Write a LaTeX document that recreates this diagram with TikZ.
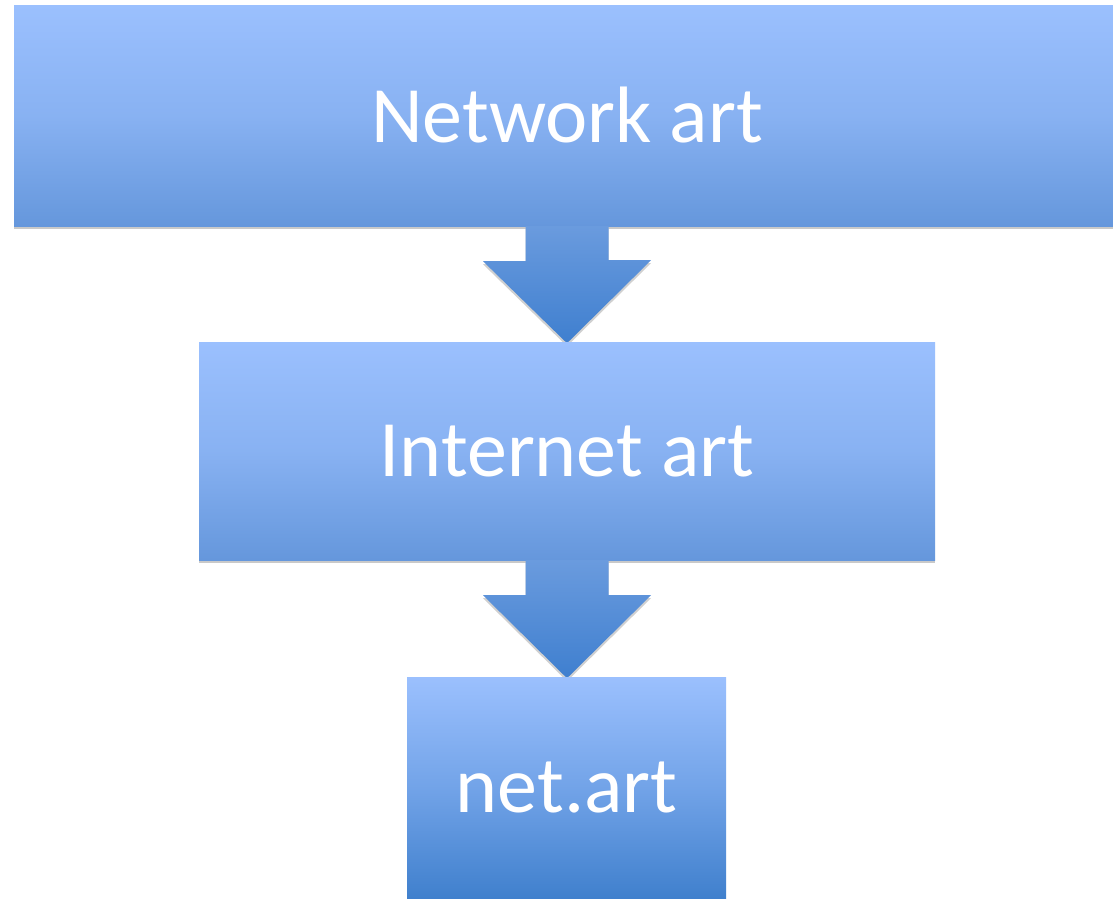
\documentclass[tikz,border=0pt]{standalone}
\usepackage{fontspec}
\setmainfont{Carlito}
\usetikzlibrary{calc,shadows}
\definecolor{boxtop}{HTML}{9BC0FE}
\definecolor{boxbot}{HTML}{6597DC}
\definecolor{boxdeep}{HTML}{4080CD}
\definecolor{arrtop}{HTML}{6A9BDE}
\definecolor{arrbot}{HTML}{3F7FCF}
\begin{document}
\begin{tikzpicture}[x=1pt,y=-1pt]
	\tikzstyle{level}=[rectangle,inner sep=0pt,text=white,font=\fontsize{80}{90}\selectfont,
		top color=boxtop,bottom color=boxbot,middle color=boxtop!65!boxbot,
		drop shadow={shadow xshift=0pt,shadow yshift=-3pt,opacity=0.35,fill=black!60}];
	\tikzstyle{flow}=[top color=arrtop,bottom color=arrbot,
		drop shadow={shadow xshift=0pt,shadow yshift=-3pt,opacity=0.3,fill=black!60}];
	\useasboundingbox (0,0) rectangle (1113,898);
	\fill[white] (0,0) rectangle (1113,898);

	\node[level,minimum width=1106pt,minimum height=221pt] (network) at (567,115.5) {Network art};

	% arrow network -> internet
	\path[flow] ($(network.south)+(-41.5,0)$) -- ++(0,35) -- ++(-42.5,0)
		-- ($(network.south)+(0,117)$) -- ++(84,-83) -- ++(-42.5,0) -- ++(0,-34) -- cycle;

	\node[level,minimum width=736pt,minimum height=218pt] (internet) at (567,451) {Internet art};

	% arrow internet -> net.art
	\path[flow] ($(internet.south)+(-41.5,0)$) -- ++(0,35) -- ++(-42.5,0)
		-- ($(internet.south)+(0,118)$) -- ++(84,-83) -- ++(-42.5,0) -- ++(0,-35) -- cycle;

	\node[level,bottom color=boxdeep,middle color=boxtop!55!boxdeep,minimum width=319pt,minimum height=221pt] (netart) at (566.5,787.5) {net.art};
\end{tikzpicture}
\end{document}
